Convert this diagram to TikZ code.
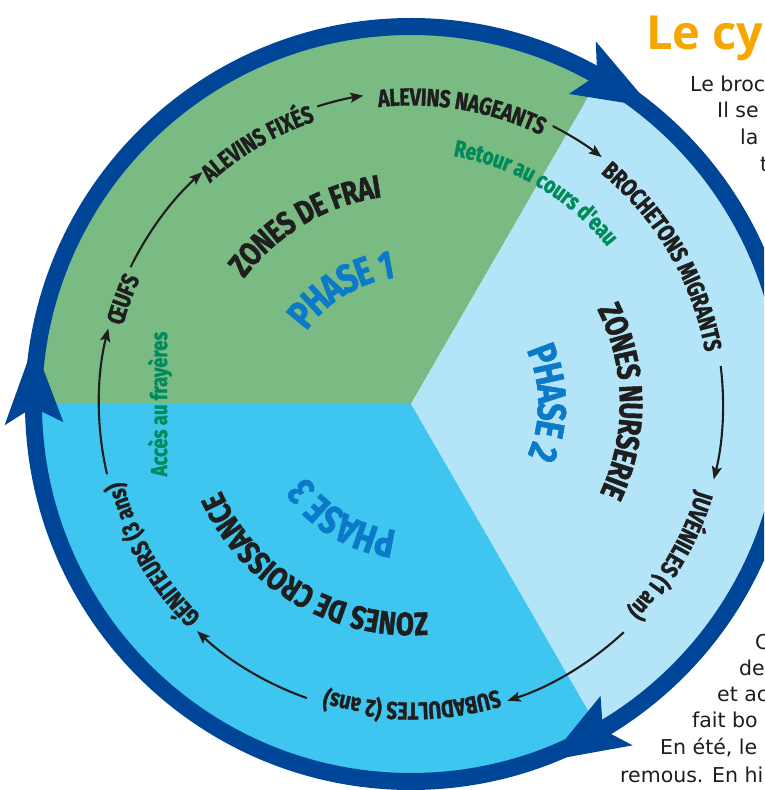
\documentclass[tikz,border=0pt]{standalone}
\usepackage{fontspec}
\usetikzlibrary{decorations.text,arrows.meta}
\newfontfamily\cf[FakeStretch=0.8,FakeBold=1.3]{Fira Sans}
\newfontfamily\bodyf{DejaVu Sans}
\newfontfamily\titlef{Open Sans}
\definecolor{ringc}{RGB}{0,70,152}
\definecolor{greenz}{RGB}{122,187,132}
\definecolor{lightb}{RGB}{180,228,248}
\definecolor{cyanz}{RGB}{62,198,240}
\definecolor{phasec}{RGB}{10,122,201}
\definecolor{greent}{RGB}{0,139,90}
\definecolor{inkc}{RGB}{30,30,30}
\definecolor{titlec}{RGB}{247,166,0}
\newcommand\arclabel[6]{% radius, center angle, half span, raise, format, text
  \path[decorate,decoration={text along path, text align=center, raise=#4,
    text={|#5|#6}}] ({#2+#3}:#1) arc[start angle={#2+#3}, end angle={#2-#3}, radius=#1];}
\tikzset{
  cyclearrow/.style={draw=inkc, line width=2.1pt, -{Stealth[length=13pt,width=10pt,inset=2.5pt]}},
  bodytext/.style={anchor=base west, inner sep=0pt, font=\bodyf\fontsize{20.5}{20.5}\selectfont, text=inkc},
}
\begin{document}
\begin{tikzpicture}[x=1pt,y=1pt]
\useasboundingbox (0,0) rectangle (764,790);
\clip (0,0) rectangle (764,790);
\fill[white] (0,0) rectangle (764,790);
\begin{scope}[shift={(411,386)}]
  % sectors
  \fill[greenz] (0,0) -- (60:378) arc[start angle=60, end angle=180, radius=378] -- cycle;
  \fill[lightb] (0,0) -- (-60:378) arc[start angle=-60, end angle=60, radius=378] -- cycle;
  \fill[cyanz] (0,0) -- (180:378) arc[start angle=180, end angle=300, radius=378] -- cycle;
  % ring
  \draw[ringc, line width=17pt] (0,0) circle[radius=377.5];
  \foreach \t in {63,183,303}{
    \fill[ringc] (\t:407) -- ({\t-12}:382) -- (\t:348) -- ({\t-2.5}:378) -- cycle;
  }
  % stage labels
  \def\stagef{\cf\bfseries\fontsize{24.5}{24.5}\selectfont\color{inkc}}
  \arclabel{307}{160}{40}{-8.4pt}{\stagef}{ŒUFS}
  \arclabel{307}{120.5}{40}{-8.4pt}{\stagef}{ALEVINS FIXÉS}
  \arclabel{307}{80.2}{40}{-8.4pt}{\stagef}{ALEVINS NAGEANTS}
  \arclabel{307}{30.3}{40}{-8.4pt}{\stagef}{BROCHETONS MIGRANTS}
  \arclabel{307}{-30.2}{40}{-8.4pt}{\stagef}{JUVÉNILES (1 an)}
  \arclabel{307}{-89.8}{40}{-8.4pt}{\stagef}{SUBADULTES (2 ans)}
  \arclabel{307}{210.2}{40}{-8.4pt}{\stagef}{GÉNITEURS (3 ans)}
  % zone labels
  \def\zonef{\cf\bfseries\fontsize{32.5}{32.5}\selectfont\color{inkc}}
  \arclabel{220}{120.5}{50}{-11.2pt}{\zonef}{ZONES DE FRAI}
  \arclabel{220}{0.75}{50}{-11.2pt}{\zonef}{ZONES NURSERIE}
  \arclabel{220}{239.5}{50}{-11.2pt}{\zonef}{ZONES DE CROISSANCE}
  % phase labels
  \def\phasef{\cf\bfseries\fontsize{40}{40}\selectfont\color{phasec}}
  \arclabel{141}{121}{45}{-13.8pt}{\phasef}{PHASE 1}
  \arclabel{141}{0.5}{45}{-13.8pt}{\phasef}{PHASE 2}
  \arclabel{141}{239}{45}{-13.8pt}{\phasef}{PHASE 3}
  % green labels
  \def\greenf{\cf\bfseries\fontsize{23.5}{23.5}\selectfont\color{greent}}
  \arclabel{258}{59.5}{40}{-6.5pt}{\greenf}{Retour au cours d'eau}
  \node[rotate=90, inner sep=0pt, text=greent, font=\cf\bfseries\fontsize{23}{23}\selectfont] (acces) at (-251,0) {Accès au frayères};
  % cycle arrows
  \draw[cyclearrow] (193:312) arc[start angle=193, end angle=166, radius=312];
  \draw[cyclearrow] (154:312) arc[start angle=154, end angle=132, radius=312];
  \draw[cyclearrow] (107.5:312) arc[start angle=107.5, end angle=98.8, radius=312];
  \draw[cyclearrow] (63:312) arc[start angle=63, end angle=52.3, radius=312];
  \draw[cyclearrow] (7:312) arc[start angle=7, end angle=-14, radius=312];
  \draw[cyclearrow] (-47:312) arc[start angle=-47, end angle=-72, radius=312];
  \draw[cyclearrow] (-109.5:312) arc[start angle=-109.5, end angle=-133.3, radius=312];
\end{scope}
% title and side text
\node[anchor=base west, inner sep=0pt, text=titlec, font=\titlef\bfseries\fontsize{47}{47}\selectfont] (title) at (646,740) {Le cy};
\node[bodytext] (b1) at (690,698) {Le broc};
\node[bodytext] (b2) at (717,672) {Il se};
\node[bodytext] (b3) at (740,645) {la};
\node[bodytext] (b4) at (760,618) {t};
\node[bodytext] (b5) at (755,140) {C};
\node[bodytext] (b6) at (739,114) {de};
\node[bodytext] (b7) at (717,88) {et ac};
\node[bodytext] (b8) at (692,62) {fait bo};
\node[bodytext] (b9) at (660,35) {En été, le};
\node[bodytext] (b10) at (620,8) {remous. En hi};
\end{tikzpicture}
\end{document}
